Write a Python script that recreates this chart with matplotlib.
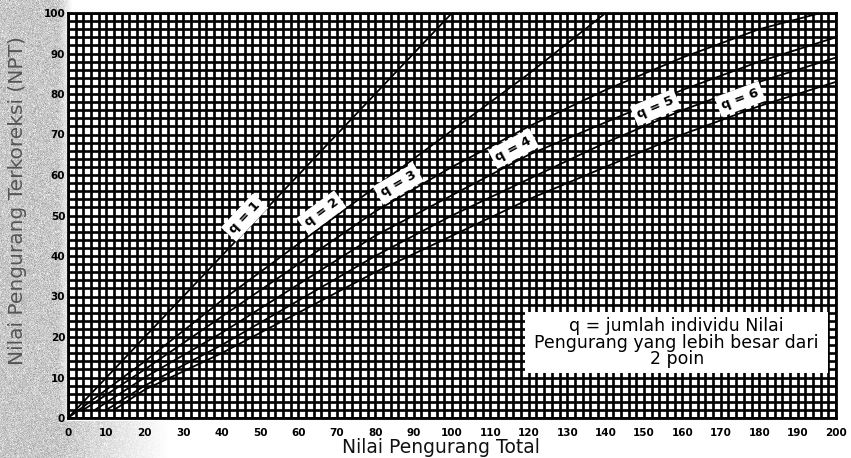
import matplotlib

matplotlib.use("Agg")
import matplotlib.pyplot as plt
import numpy as np
from matplotlib.patches import Rectangle
from matplotlib.ticker import MultipleLocator

W, H, DPI = 851, 458, 100

# CDV curves: total deduct value -> corrected deduct value
Q1_X = [0, 100]
Q1_Y = [0, 100]
Q2_X = [0, 20, 40, 60, 80, 100, 120, 140]
Q2_Y = [0, 14, 29, 43, 57, 71, 85, 100]
Q3_X = [4, 20, 40, 60, 80, 100, 120, 140, 160, 180, 196]
Q3_Y = [2, 12, 25, 38, 51, 62, 72, 81, 89, 96, 100]
Q4_X = [7, 20, 40, 60, 80, 100, 120, 140, 160, 180, 200]
Q4_Y = [2, 10, 21, 33, 45, 55, 65, 73, 81, 88, 94]
Q5_X = [10, 20, 40, 60, 80, 100, 120, 140, 160, 180, 200]
Q5_Y = [2, 8, 18, 29, 40, 50, 59, 68, 76, 83, 89]
Q6_X = [12, 20, 40, 60, 80, 100, 120, 140, 160, 180, 200]
Q6_Y = [2, 7, 16, 26, 36, 45, 54, 62, 70, 77, 83]

CURVES = [(Q1_X, Q1_Y), (Q2_X, Q2_Y), (Q3_X, Q3_Y),
          (Q4_X, Q4_Y), (Q5_X, Q5_Y), (Q6_X, Q6_Y)]
LABELS = ["q = 1", "q = 2", "q = 3", "q = 4", "q = 5", "q = 6"]
LABEL_AT = [46, 66, 86, 116, 153, 175]   # TDV where each label sits

X_TICKS = list(range(0, 201, 10))
Y_TICKS = list(range(0, 101, 10))
NOTE = "q = jumlah individu Nilai\nPengurang yang lebih besar dari\n2 poin"

fig = plt.figure(figsize=(W / DPI, H / DPI), dpi=DPI)

# scanned-paper look: grey stipple band on the left / bottom-left
bg = fig.add_axes([0, 0, 1, 1], zorder=-1)
xx, yy = np.meshgrid(np.arange(W), np.arange(H))
shade = np.clip((72 - xx) / 14, 0, 1)
shade = np.maximum(shade, np.clip((170 - xx) / 110, 0, 1) * (yy > 420))
noise = np.random.default_rng(3).normal(0, 0.06, (H, W))
img = 1 - shade * (0.22 + noise)
bg.imshow(np.clip(img, 0, 1), cmap="gray", vmin=0, vmax=1,
          extent=(0, W, H, 0), aspect="auto", interpolation="nearest")
bg.axis("off")

ax = fig.add_axes([68 / W, 40 / H, 768 / W, 405 / H])
ax.set_xlim(0, 200)
ax.set_ylim(0, 100)

ax.xaxis.set_minor_locator(MultipleLocator(2))
ax.yaxis.set_minor_locator(MultipleLocator(2))
ax.grid(which="both", color="black", lw=1.9)
ax.set_xticks(X_TICKS)
ax.set_yticks(Y_TICKS)
ax.tick_params(which="both", length=0)
ax.tick_params(axis="x", pad=7, labelsize=7.5)
ax.tick_params(axis="y", pad=2, labelsize=7.5)
for t in ax.get_xticklabels() + ax.get_yticklabels():
    t.set_fontweight("bold")
for s in ax.spines.values():
    s.set_linewidth(2)

for (cx, cy), lab, lx in zip(CURVES, LABELS, LABEL_AT):
    ax.plot(cx, cy, color="black", lw=1.3, zorder=3)
    ly = np.interp(lx, cx, cy)
    slope = (np.interp(lx + 3, cx, cy) - np.interp(lx - 3, cx, cy)) / 6
    ang = np.degrees(np.arctan(slope))
    ax.text(lx, ly + 3.5, lab, fontsize=9.5, fontweight="bold",
            ha="center", va="center", rotation=ang,
            transform_rotates_text=True, rotation_mode="anchor", zorder=5,
            bbox=dict(boxstyle="square,pad=0.3", fc="white", ec="none"))

ax.add_patch(Rectangle((119, 11.1), 79, 15.1, fc="white", ec="none", zorder=4))
ax.text(158.5, 18.6, NOTE, fontsize=12.5, ha="center", va="center",
        linespacing=0.9, zorder=5)

ax.set_xlabel("Nilai Pengurang Total", fontsize=13.5, color="#111111")
ax.xaxis.set_label_coords(0.486, -0.05)
ax.set_ylabel("Nilai Pengurang Terkoreksi (NPT)", fontsize=14.5, color="#555555")
ax.yaxis.set_label_coords(-0.053, 0.536)

fig.savefig("out.png", dpi=DPI)
plt.close(fig)
